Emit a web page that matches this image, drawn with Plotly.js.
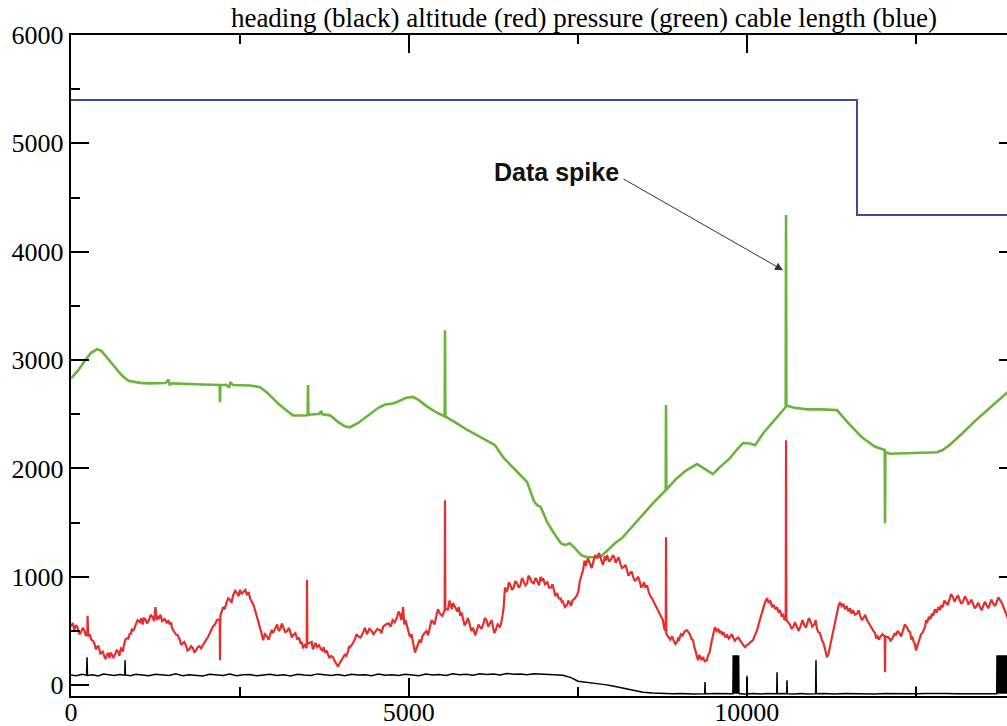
<!DOCTYPE html>
<html>
<head>
<meta charset="utf-8">
<script src="https://cdn.plot.ly/plotly-3.0.1.min.js"></script>
<style>
html,body{margin:0;padding:0;overflow:hidden;background:#fff;}
#chart{width:1030px;height:726px;}
</style>
</head>
<body>
<div id="chart"></div>
<script>
// ---- cable length (blue)
const cableX = [0, 11632, 11632, 14000];
const cableY = [5400, 5400, 4340, 4340];

// ---- pressure (green)
const pressureX = [
  0, 100, 200, 300, 385, 450, 550, 650, 750, 850,
  950, 1020, 1150, 1300, 1400, 1440, 1460, 1500, 1650, 1800,
  1950, 2100, 2200, 2205, 2210, 2300, 2340, 2360, 2400, 2500,
  2650, 2797, 2900, 3000, 3100, 3200, 3285, 3400, 3503, 3508,
  3513, 3600, 3680, 3700, 3720, 3833, 3950, 4050, 4130, 4250,
  4400, 4550, 4650, 4765, 4850, 4950, 5060, 5150, 5250, 5400,
  5530, 5535, 5540, 5700, 5850, 6000, 6150, 6275, 6400, 6550,
  6700, 6750, 6850, 6900, 6950, 7050, 7150, 7250, 7310, 7380,
  7450, 7550, 7635, 7830, 7950, 8050, 8155, 8300, 8465, 8600,
  8801, 8806, 8811, 8950, 9100, 9265, 9400, 9500, 9600, 9752,
  9850, 9945, 10050, 10123, 10250, 10400, 10500, 10577, 10582, 10587,
  10700, 10900, 11100, 11336, 11500, 11700, 11900, 12042, 12047, 12052,
  12120, 12400, 12600, 12816, 12900, 13000, 13200, 13400, 13600, 13852,
  14000
];
const pressureY = [
  2830, 2900, 2990, 3070, 3100, 3085, 3010, 2930, 2860, 2810,
  2795, 2790, 2785, 2790, 2788, 2820, 2775, 2785, 2780, 2778,
  2775, 2772, 2770, 2610, 2768, 2772, 2745, 2790, 2770, 2768,
  2765, 2750, 2700, 2640, 2580, 2530, 2490, 2488, 2490, 2770,
  2495, 2500, 2505, 2530, 2500, 2490, 2430, 2390, 2380, 2420,
  2490, 2560, 2590, 2600, 2620, 2650, 2660, 2630, 2580, 2520,
  2480, 3275, 2480, 2420, 2360, 2310, 2260, 2215, 2100, 2000,
  1910, 1875, 1700, 1660, 1645, 1500, 1400, 1310, 1292, 1310,
  1270, 1200, 1181, 1181, 1250, 1310, 1357, 1460, 1570, 1670,
  1800, 2585, 1805, 1900, 1980, 2040, 1985, 1948, 2010, 2095,
  2170, 2235, 2230, 2215, 2330, 2440, 2520, 2566, 4340, 2580,
  2560, 2545, 2545, 2538, 2420, 2290, 2200, 2170, 1495, 2150,
  2135, 2140, 2145, 2150, 2170, 2215, 2330, 2450, 2560, 2695,
  2780
];

// ---- altitude (red), [x, value] pairs
const altitudePoints = [
  [0,540],[25,575],[50,510],[75,555],[100,525],[125,470],[150,490],[175,530],[200,500],[220,455],
  [240,470],[245,640],[255,450],[278,470],[300,420],[325,410],[350,380],[368,330],[385,350],[402,365],
  [420,330],[435,285],[450,300],[470,310],[490,270],[510,240],[530,277],[550,300],[570,250],[585,300],
  [600,290],[625,250],[650,280],[675,320],[700,310],[712,270],[725,300],[742,340],[760,330],[770,310],
  [780,360],[805,420],[830,434],[850,430],[870,480],[885,470],[900,520],[925,500],[950,545],[985,600],
  [1020,580],[1040,620],[1060,560],[1080,615],[1100,610],[1125,570],[1150,595],[1180,650],[1215,620],[1228,590],
  [1240,660],[1250,720],[1270,600],[1285,640],[1300,610],[1325,650],[1350,590],[1385,610],[1420,572],[1440,600],
  [1460,560],[1480,580],[1500,520],[1525,500],[1550,470],[1580,460],[1613,415],[1630,370],[1650,380],[1675,400],
  [1700,370],[1725,320],[1750,330],[1778,360],[1805,341],[1828,300],[1850,320],[1875,350],[1900,360],[1925,340],
  [1953,370],[1975,400],[2000,420],[2025,440],[2050,470],[2075,500],[2100,540],[2130,560],[2160,600],[2200,610],
  [2205,230],[2210,640],[2250,720],[2275,700],[2300,760],[2325,800],[2350,790],[2375,760],[2400,830],[2430,870],
  [2457,850],[2480,820],[2500,880],[2525,840],[2550,860],[2580,880],[2605,830],[2630,860],[2650,800],[2675,770],
  [2700,740],[2725,690],[2753,628],[2775,600],[2800,520],[2820,480],[2842,415],[2870,470],[2900,450],[2925,420],
  [2950,470],[2970,510],[2990,480],[3020,520],[3050,560],[3075,500],[3100,520],[3120,570],[3137,535],[3170,490],
  [3200,500],[3225,530],[3250,480],[3268,440],[3285,461],[3320,480],[3350,420],[3375,440],[3400,380],[3418,400],
  [3433,341],[3460,370],[3488,340],[3493,970],[3498,380],[3560,400],[3580,330],[3600,360],[3620,390],[3640,350],
  [3670,370],[3700,330],[3720,320],[3740,350],[3760,300],[3780,320],[3800,290],[3825,250],[3850,270],[3877,258],
  [3915,210],[3950,170],[3975,200],[4000,230],[4025,260],[4050,280],[4075,270],[4100,310],[4115,360],[4130,350],
  [4165,380],[4200,420],[4225,470],[4250,450],[4285,440],[4320,480],[4350,530],[4380,470],[4415,520],[4450,500],
  [4475,470],[4500,490],[4535,520],[4573,507],[4595,480],[4620,540],[4660,560],[4700,570],[4730,540],[4760,600],
  [4790,580],[4825,628],[4848,680],[4870,650],[4890,600],[4915,720],[4932,560],[4950,600],[4985,520],[5017,443],
  [5040,470],[5060,400],[5090,300],[5120,350],[5140,380],[5160,420],[5180,390],[5200,450],[5230,480],[5260,500],
  [5285,460],[5313,535],[5335,600],[5360,580],[5380,560],[5400,620],[5430,700],[5460,660],[5495,640],[5530,692],
  [5535,1707],[5540,700],[5580,700],[5600,780],[5620,740],[5636,700],[5653,757],[5685,720],[5720,680],[5740,720],
  [5760,640],[5780,670],[5800,600],[5825,550],[5850,580],[5875,620],[5900,560],[5925,500],[5950,530],[5980,460],
  [6008,507],[6030,560],[6050,540],[6075,520],[6100,560],[6125,620],[6150,600],[6175,540],[6200,572],[6225,600],
  [6250,520],[6265,480],[6280,500],[6315,560],[6350,535],[6375,600],[6400,700],[6423,904],[6440,860],[6460,880],
  [6480,950],[6500,930],[6525,880],[6550,900],[6575,960],[6600,941],[6625,900],[6650,920],[6675,990],[6700,960],
  [6725,920],[6750,940],[6770,1010],[6793,988],[6820,950],[6850,940],[6875,990],[6900,960],[6925,920],[6950,1000],
  [6968,960],[6985,988],[7015,930],[7050,950],[7075,900],[7100,900],[7125,930],[7150,870],[7170,820],[7193,850],
  [7220,800],[7250,800],[7265,760],[7280,770],[7310,720],[7340,738],[7360,780],[7380,760],[7400,730],[7420,780],
  [7455,800],[7490,830],[7510,870],[7530,960],[7555,1020],[7577,1061],[7600,1150],[7620,1100],[7650,1170],[7680,1120],
  [7705,1080],[7730,1140],[7758,1200],[7785,1172],[7815,1220],[7850,1150],[7875,1110],[7900,1190],[7915,1150],[7932,1200],
  [7965,1140],[8000,1170],[8020,1200],[8040,1180],[8060,1130],[8080,1154],[8105,1180],[8130,1120],[8155,1080],[8180,1090],
  [8205,1110],[8230,1060],[8250,1010],[8273,1034],[8295,1050],[8320,1000],[8345,960],[8370,980],[8395,1000],[8420,950],
  [8440,900],[8465,923],[8480,950],[8500,900],[8525,920],[8550,860],[8575,820],[8600,800],[8635,760],[8672,720],
  [8695,680],[8720,650],[8740,620],[8760,600],[8780,520],[8801,500],[8806,1366],[8811,470],[8870,420],[8895,450],
  [8920,410],[8945,380],[8968,397],[8985,430],[9000,420],[9025,470],[9050,460],[9085,500],[9116,507],[9140,490],
  [9160,470],[9180,430],[9205,415],[9222,360],[9240,320],[9260,260],[9280,230],[9300,280],[9320,250],[9335,230],
  [9350,260],[9380,220],[9412,230],[9430,280],[9450,300],[9465,360],[9480,400],[9505,470],[9530,535],[9555,500],
  [9580,520],[9600,480],[9620,500],[9640,470],[9660,480],[9685,440],[9708,461],[9735,430],[9760,450],[9780,470],
  [9800,440],[9825,410],[9850,430],[9875,440],[9900,415],[9920,390],[9940,380],[9958,360],[9975,350],[10000,370],
  [10030,380],[10060,400],[10093,415],[10120,460],[10150,500],[10175,560],[10200,620],[10225,680],[10250,720],[10275,770],
  [10300,803],[10325,760],[10350,780],[10375,720],[10400,740],[10425,700],[10450,720],[10470,670],[10493,692],[10515,640],
  [10540,650],[10560,600],[10577,620],[10582,2261],[10587,600],[10640,560],[10665,520],[10690,540],[10715,580],[10744,535],
  [10770,500],[10800,550],[10825,600],[10850,560],[10875,530],[10900,580],[10920,620],[10937,600],[10970,540],[11000,560],
  [11020,600],[11040,520],[11060,490],[11085,480],[11110,420],[11140,380],[11165,300],[11188,258],[11210,290],[11230,350],
  [11255,420],[11280,500],[11305,580],[11330,650],[11355,720],[11381,766],[11405,730],[11430,750],[11455,700],[11480,730],
  [11505,680],[11530,710],[11550,660],[11573,692],[11600,650],[11630,660],[11655,690],[11680,640],[11705,600],[11730,620],
  [11755,650],[11780,600],[11815,560],[11850,520],[11875,500],[11900,480],[11915,430],[11928,461],[11955,420],[11980,450],
  [12010,470],[12042,445],[12047,120],[12052,450],[12100,440],[12130,410],[12165,443],[12190,480],[12210,460],[12235,500],
  [12260,480],[12285,450],[12310,500],[12340,560],[12372,535],[12395,500],[12420,490],[12435,420],[12450,450],[12470,400],
  [12490,380],[12505,320],[12520,350],[12540,390],[12560,420],[12580,470],[12600,480],[12620,520],[12640,540],[12655,600],
  [12668,572],[12695,630],[12720,610],[12740,660],[12760,640],[12785,700],[12810,670],[12835,720],[12861,692],[12880,740],
  [12900,720],[12925,780],[12950,760],[12975,740],[13000,790],[13025,840],[13053,812],[13075,770],[13100,800],[13125,830],
  [13150,790],[13175,750],[13200,770],[13230,820],[13260,785],[13280,750],[13300,760],[13325,790],[13350,750],[13375,710],
  [13400,730],[13425,760],[13453,720],[13475,690],[13500,730],[13525,770],[13550,740],[13575,710],[13600,750],[13620,790],
  [13645,757],[13675,730],[13700,770],[13725,810],[13749,785],[13775,760],[13800,720],[13825,680],[13852,628],[13875,600],
  [13900,560],[13950,520],[14000,500]
];

// ---- heading (black)
const headingX = [
  0, 80, 160, 230, 237, 244, 320, 400, 480, 560,
  640, 720, 795, 800, 805, 880, 960, 1050, 1150, 1250,
  1350, 1450, 1550, 1650, 1750, 1850, 1950, 2050, 2150, 2250,
  2350, 2450, 2550, 2650, 2750, 2850, 2950, 3050, 3150, 3250,
  3350, 3450, 3550, 3650, 3750, 3850, 3950, 4050, 4150, 4250,
  4350, 4450, 4550, 4650, 4750, 4850, 4950, 5050, 5150, 5250,
  5350, 5450, 5550, 5650, 5750, 5850, 5950, 6050, 6150, 6250,
  6350, 6450, 6550, 6650, 6750, 6850, 6950, 7050, 7150, 7281,
  7400, 7503, 7600, 7700, 7785, 7900, 8000, 8080, 8170, 8300,
  8465, 8600, 8761, 8900, 9050, 9200, 9378, 9383, 9388, 9550,
  9700, 9795, 9800, 9805, 9810, 9815, 9820, 9825, 9830, 9835,
  9840, 9845, 9850, 9855, 9860, 9865, 9870, 9875, 9880, 9885,
  9890, 9950, 10000, 10005, 10010, 10100, 10200, 10300, 10444, 10449,
  10454, 10520, 10591, 10596, 10601, 10700, 10800, 10900, 11020, 11025,
  11030, 11150, 11300, 11450, 11600, 11750, 11900, 12050, 12200, 12350,
  12500, 12505, 12510, 12650, 12800, 12950, 13100, 13250, 13400, 13550,
  13700, 13704, 13710, 13716, 13722, 13728, 13734, 13740, 13746, 13752,
  13758, 13764, 13770, 13776, 13782, 13788, 13794, 13800, 13806, 13812,
  13818, 13824, 13830, 13836, 13842, 13848, 13854, 13860, 13866, 13872
];
const headingY = [
  95, 88, 100, 92, 258, 90, 97, 85, 102, 94,
  90, 99, 92, 230, 95, 88, 100, 93, 86, 101,
  95, 90, 104, 88, 97, 92, 85, 100, 96, 90,
  103, 88, 95, 99, 86, 94, 101, 90, 97, 85,
  100, 93, 89, 104, 95, 90, 98, 86, 101, 93,
  97, 88, 103, 92, 96, 89, 100, 95, 87, 102,
  93, 98, 90, 105, 96, 100, 92, 106, 98, 104,
  95, 108, 100, 103, 97, 105, 100, 98, 95, 92,
  70, 37, 30, 25, 18, 5, -5, -15, -28, -45,
  -65, -72, -78, -80, -76, -82, -80, 30, -80, -78,
  -82, -80, 277, -80, 277, -80, 277, -80, 277, -80,
  277, -80, 277, -80, 277, -80, 277, -80, 277, -80,
  -78, -82, -80, 87, -80, -76, -82, -78, -80, 120,
  -80, -78, -80, 46, -80, -82, -77, -81, -80, 230,
  -80, -78, -82, -76, -80, -79, -82, -77, -80, -78,
  -80, -10, -80, -78, -81, -77, -80, -82, -78, -80,
  -80, 277, -80, 277, -80, 277, -80, 277, -80, 277,
  -80, 277, -80, 277, -80, 277, -80, 277, -80, 277,
  -80, 277, -80, 277, -80, 277, -80, 277, -80, 277
];

// ---- axes ticks
const xTicks = [0, 5000, 10000];
const xTickText = ['0', '5000', '10000'];
const yTicks = [0, 1000, 2000, 3000, 4000, 5000, 6000];
const yTickText = ['0', '1000', '2000', '3000', '4000', '5000', '6000'];

// ---- annotation
const spikeLabel = 'Data spike';
const spikePoint = [10537, 3830];

const titleText = 'heading (black) altitude (red) pressure (green) cable length (blue)';

const altitudeX = altitudePoints.map(p => p[0]);
const altitudeY = altitudePoints.map(p => p[1]);

const traces = [
  {x: cableX, y: cableY, mode: 'lines', line: {color: '#3b4a9c', width: 2}, hoverinfo: 'skip'},
  {x: pressureX, y: pressureY, mode: 'lines', line: {color: '#6bb43c', width: 2.6}, hoverinfo: 'skip'},
  {x: altitudeX, y: altitudeY, mode: 'lines', line: {color: '#e3302f', width: 2.2}, hoverinfo: 'skip'},
  {x: headingX, y: headingY, mode: 'lines', line: {color: '#000000', width: 1.5}, hoverinfo: 'skip'}
];

const serif = '"Liberation Serif", "Times New Roman", Times, serif';

const axisCommon = {
  showgrid: false, zeroline: false,
  showline: true, linecolor: '#000', linewidth: 2.2,
  mirror: 'allticks',
  ticks: 'inside', ticklen: 18, tickwidth: 2, tickcolor: '#000',
  tickmode: 'array'
};

const layout = {
  width: 1030, height: 726,
  margin: {l: 71, r: 13, t: 35, b: 30},
  paper_bgcolor: '#fff', plot_bgcolor: '#fff',
  showlegend: false,
  font: {family: serif, size: 26, color: '#000'},
  title: {
    text: titleText,
    font: {family: serif, size: 27, color: '#000'},
    x: 584 / 1030, xanchor: 'center', xref: 'container',
    y: 1 - 18 / 726, yanchor: 'middle', yref: 'container'
  },
  xaxis: Object.assign({}, axisCommon, {
    range: [0, 14000], tickvals: xTicks, ticktext: xTickText,
    tickfont: {family: serif, size: 26, color: '#000'},
    ticklabelstandoff: -8,
    minor: {tickmode: 'linear', tick0: 0, dtick: 2500, ticks: 'inside', ticklen: 9, tickwidth: 2, tickcolor: '#000'}
  }),
  yaxis: Object.assign({}, axisCommon, {
    range: [-100, 6000], tickvals: yTicks, ticktext: yTickText,
    tickfont: {family: serif, size: 26, color: '#000'},
    minor: {tickmode: 'linear', tick0: 0, dtick: 500, ticks: 'inside', ticklen: 9, tickwidth: 2, tickcolor: '#000'}
  }),
  annotations: [
    {
      x: spikePoint[0], y: spikePoint[1], xref: 'x', yref: 'y',
      text: ' ', font: {size: 1},
      showarrow: true, arrowhead: 2, arrowsize: 1.6, arrowwidth: 1, arrowcolor: '#333',
      ax: -161, ay: -92, standoff: 0, startstandoff: 0
    },
    {
      x: spikePoint[0], y: spikePoint[1], xref: 'x', yref: 'y',
      text: '<b>' + spikeLabel + '</b>',
      font: {family: '"Liberation Sans", Arial, sans-serif', size: 25, color: '#111'},
      showarrow: false, xanchor: 'center', yanchor: 'middle',
      xshift: -227, yshift: 98
    }
  ]
};

Plotly.newPlot('chart', traces, layout, {staticPlot: true, displayModeBar: false});
</script>
</body>
</html>
